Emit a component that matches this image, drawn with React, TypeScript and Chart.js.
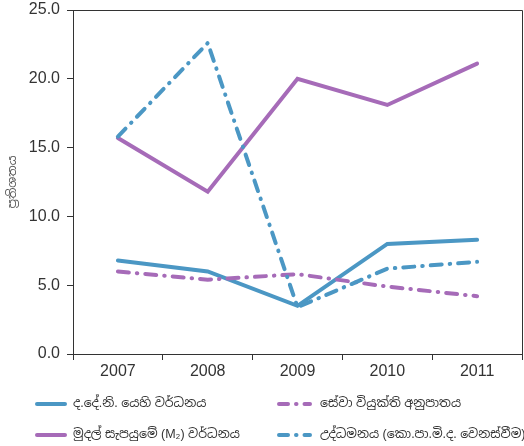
import React, { useEffect, useRef } from "react";
import { Chart, registerables } from "chart.js";

Chart.register(...registerables);

const years = ["2007", "2008", "2009", "2010", "2011"];
const gdpGrowth = [6.8, 6.0, 3.5, 8.0, 8.3];
const m2Growth = [15.7, 11.8, 20.0, 18.1, 21.1];
const unemployment = [6.0, 5.4, 5.8, 4.9, 4.2];
const inflation = [15.8, 22.6, 3.4, 6.2, 6.7];
const seriesLabels = [
  "ද.දේ.නි. යෙහි වර්ධනය",
  "මුදල් සැපයුමේ (M₂) වර්ධනය",
  "සේවා වියුක්ති අනුපාතය",
  "උද්ධමනය (කො.පා.මි.ද. වෙනස්වීම)",
];
const yTickValues = [0, 5, 10, 15, 20, 25];
const yTitle = "ප්‍රතිශතය";

const BLUE = "#4b97c4";
const PURPLE = "#a66bb8";
const AXIS = "#333333";
const FONT = "'Liberation Sans', Arial, 'Noto Sans Sinhala', 'Noto Sans', sans-serif";
const DASHDOT = [11, 8, 0.5, 8];

const boxPlugin = {
  id: "boxPlugin",
  afterDraw(chart: any) {
    const { ctx, chartArea } = chart;
    ctx.save();
    ctx.strokeStyle = AXIS;
    ctx.lineWidth = 1;
    ctx.beginPath();
    ctx.moveTo(chartArea.left, chartArea.top + 0.5);
    ctx.lineTo(chartArea.right + 0.5, chartArea.top + 0.5);
    ctx.lineTo(chartArea.right + 0.5, chartArea.bottom);
    ctx.stroke();
    ctx.restore();
  },
};

const legendPlugin = {
  id: "customLegend",
  afterDraw(chart: any) {
    const ctx = chart.ctx;
    const cols = [
      { x0: 37, x1: 65, tx: 73 },
      { x0: 279, x1: 310, tx: 320 },
    ];
    const rows = [404, 435];
    chart.data.datasets.forEach((ds: any, i: number) => {
      const c = cols[Math.floor(i / 2)];
      const y = rows[i % 2];
      ctx.save();
      ctx.strokeStyle = ds.borderColor;
      ctx.lineWidth = ds.borderWidth;
      ctx.lineCap = "round";
      ctx.setLineDash(ds.borderDash && ds.borderDash.length ? [9, 8, 0.5, 8] : []);
      ctx.beginPath();
      ctx.moveTo(c.x0, y);
      ctx.lineTo(c.x1, y);
      ctx.stroke();
      ctx.setLineDash([]);
      ctx.fillStyle = "#333333";
      ctx.font = `12.5px ${FONT}`;
      ctx.textBaseline = "middle";
      ctx.textAlign = "left";
      ctx.fillText(ds.label, c.tx, y);
      ctx.restore();
    });
  },
};

export default function App() {
  const ref = useRef<HTMLCanvasElement | null>(null);

  useEffect(() => {
    document.body.style.margin = "0";
    if (!ref.current) return;
    const mk = (label: string, data: number[], color: string, dashed: boolean, order: number) => ({
      label,
      data,
      borderColor: color,
      backgroundColor: color,
      borderWidth: 4,
      borderDash: dashed ? DASHDOT : [],
      borderCapStyle: "round" as const,
      borderJoinStyle: "miter" as const,
      pointRadius: 0,
      tension: 0,
      fill: false,
      order,
    });
    const chart = new Chart(ref.current, {
      type: "line",
      data: {
        labels: years,
        datasets: [
          mk(seriesLabels[0], gdpGrowth, BLUE, false, 3),
          mk(seriesLabels[1], m2Growth, PURPLE, false, 2),
          mk(seriesLabels[2], unemployment, PURPLE, true, 1),
          mk(seriesLabels[3], inflation, BLUE, true, 0),
        ],
      },
      options: {
        animation: false,
        responsive: false,
        devicePixelRatio: 1,
        layout: { padding: { left: 0, right: 2, top: 10, bottom: 0 } },
        plugins: {
          legend: { display: false },
          tooltip: { enabled: false },
        },
        scales: {
          x: {
            offset: true,
            grid: {
              offset: true,
              drawOnChartArea: false,
              color: AXIS,
              tickLength: 6,
            },
            border: { color: AXIS, width: 1 },
            ticks: {
              color: "#333333",
              font: { family: FONT, size: 16 },
              padding: 2,
              maxRotation: 0,
            },
            afterFit: (s: any) => {
              s.height = 92;
              s.paddingLeft = 0;
              s.paddingRight = 0;
            },
          },
          y: {
            min: 0,
            max: 25,
            grid: {
              drawOnChartArea: false,
              color: AXIS,
              tickLength: 6,
            },
            border: { color: AXIS, width: 1 },
            afterBuildTicks: (s: any) => {
              s.ticks = yTickValues.map((v) => ({ value: v }));
            },
            ticks: {
              color: "#333333",
              font: { family: FONT, size: 16 },
              padding: 7,
              callback: (v: any) => Number(v).toFixed(1),
            },
            title: {
              display: true,
              text: yTitle,
              color: "#555555",
              font: { family: FONT, size: 12 },
              padding: { top: 5, bottom: 0 },
            },
            afterFit: (s: any) => {
              s.width = 73;
              s.paddingTop = 0;
              s.paddingBottom = 0;
            },
          },
        },
      },
      plugins: [boxPlugin, legendPlugin],
    });
    return () => chart.destroy();
  }, []);

  return (
    <div style={{ position: "absolute", left: 0, top: 0, width: 524, height: 446 }}>
      <canvas ref={ref} width={524} height={446} />
    </div>
  );
}
